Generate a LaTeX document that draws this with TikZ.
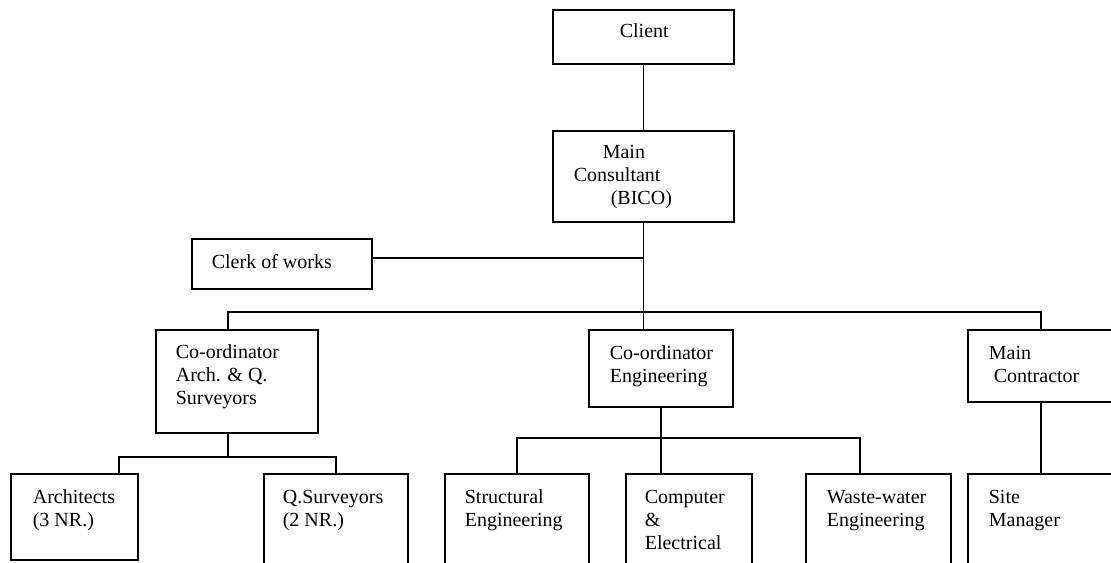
\documentclass[tikz,border=0pt]{standalone}
\usepackage{fontspec}
\setmainfont{Liberation Serif}
\usetikzlibrary{calc, positioning, fit}

\begin{document}
\begin{tikzpicture}[
        x=0.6pt, y=-0.6pt, line width=1pt,
        box/.style = {rectangle, draw, inner sep=0pt, node contents={}},
        txt/.style = {anchor=base west, inner sep=0pt, align=left,
                      font=\fontsize{12}{13.8}\selectfont}
    ]
    \useasboundingbox (0,0) rectangle (1111,563);
    \clip (0,0) rectangle (1111,563);

    %Kaesten
    \node (client_box)[box, fit={(553,10) (734,64)}];
    \node (mcons_box)[box, fit={(553,131) (734,222)}];
    \node (clerk_box)[box, fit={(192,239) (372,289)}];
    \node (coarch_box)[box, fit={(156,330) (318,433)}];
    \node (coeng_box)[box, fit={(589,330) (733,407)}];
    \node (mcontr_box)[box, fit={(968,330) (1130,402)}];
    \node (archi_box)[box, fit={(11,474) (138,560)}];
    \node (qsurv_box)[box, fit={(264,474) (408,590)}];
    \node (struct_box)[box, fit={(445,474) (589,590)}];
    \node (compel_box)[box, fit={(626,474) (752,590)}];
    \node (wastew_box)[box, fit={(806,474) (951,590)}];
    \node (sitem_box)[box, fit={(968,474) (1130,590)}];

    %Texte (base = letzte Zeile)
    \node (client_txt) at (619,38)[txt]{Client};
    \node (mcons_txt) at (573,204)[txt]{\hspace*{17.4pt}Main\\Consultant\\\hspace*{22.2pt}(BICO)};
    \node (clerk_txt) at (211,268)[txt]{Clerk of works};
    \node (coarch_txt) at (175,404)[txt]{Co-ordinator\\Arch. \& Q.\\Surveyors};
    \node (coeng_txt) at (609,382)[txt]{Co-ordinator\\Engineering};
    \node (mcontr_txt) at (988,382)[txt]{Main\\\hspace*{3pt}Contractor};
    \node (archi_txt) at (32,526)[txt]{Architects\\(3 NR.)};
    \node (qsurv_txt) at (282,526)[txt]{Q.Surveyors\\(2 NR.)};
    \node (struct_txt) at (464,526)[txt]{Structural\\Engineering};
    \node (compel_txt) at (644,549)[txt]{Computer\\\&\\Electrical};
    \node (wastew_txt) at (826,526)[txt]{Waste-water\\Engineering};
    \node (sitem_txt) at (988,526)[txt]{Site\\Manager};

    %Verzweigungen
    \coordinate (top_bus) at (643.5,312);
    \coordinate (bus_w) at (228,312);
    \coordinate (bus_e) at (1041,312);
    \coordinate (arch_bus) at (228,457);
    \coordinate (arch_w) at (119,457);
    \coordinate (arch_e) at (336,457);
    \coordinate (eng_bus) at (661,438);
    \coordinate (eng_w) at (517,438);
    \coordinate (eng_e) at (860,438);

    %Linien
    \draw (client_box.south) -- (mcons_box.north);
    \draw (mcons_box.south) -- (top_bus) -- (top_bus |- coeng_box.north);
    \draw ($(clerk_box.east)+(0,-6)$) -- ($(clerk_box.east -| top_bus)+(0,-6)$);
    \draw (bus_w |- coarch_box.north) -- (bus_w) -- (bus_e) -- (bus_e |- mcontr_box.north);

    \draw (arch_bus |- coarch_box.south) -- (arch_bus);
    \draw (arch_w |- archi_box.north) -- (arch_w) -- (arch_e) -- (arch_e |- qsurv_box.north);

    \draw (coeng_box.south) -- (eng_bus) -- (eng_bus |- compel_box.north);
    \draw (eng_w |- struct_box.north) -- (eng_w) -- (eng_e) -- (eng_e |- wastew_box.north);

    \draw (bus_e |- mcontr_box.south) -- (bus_e |- sitem_box.north);

\end{tikzpicture}
\end{document}
